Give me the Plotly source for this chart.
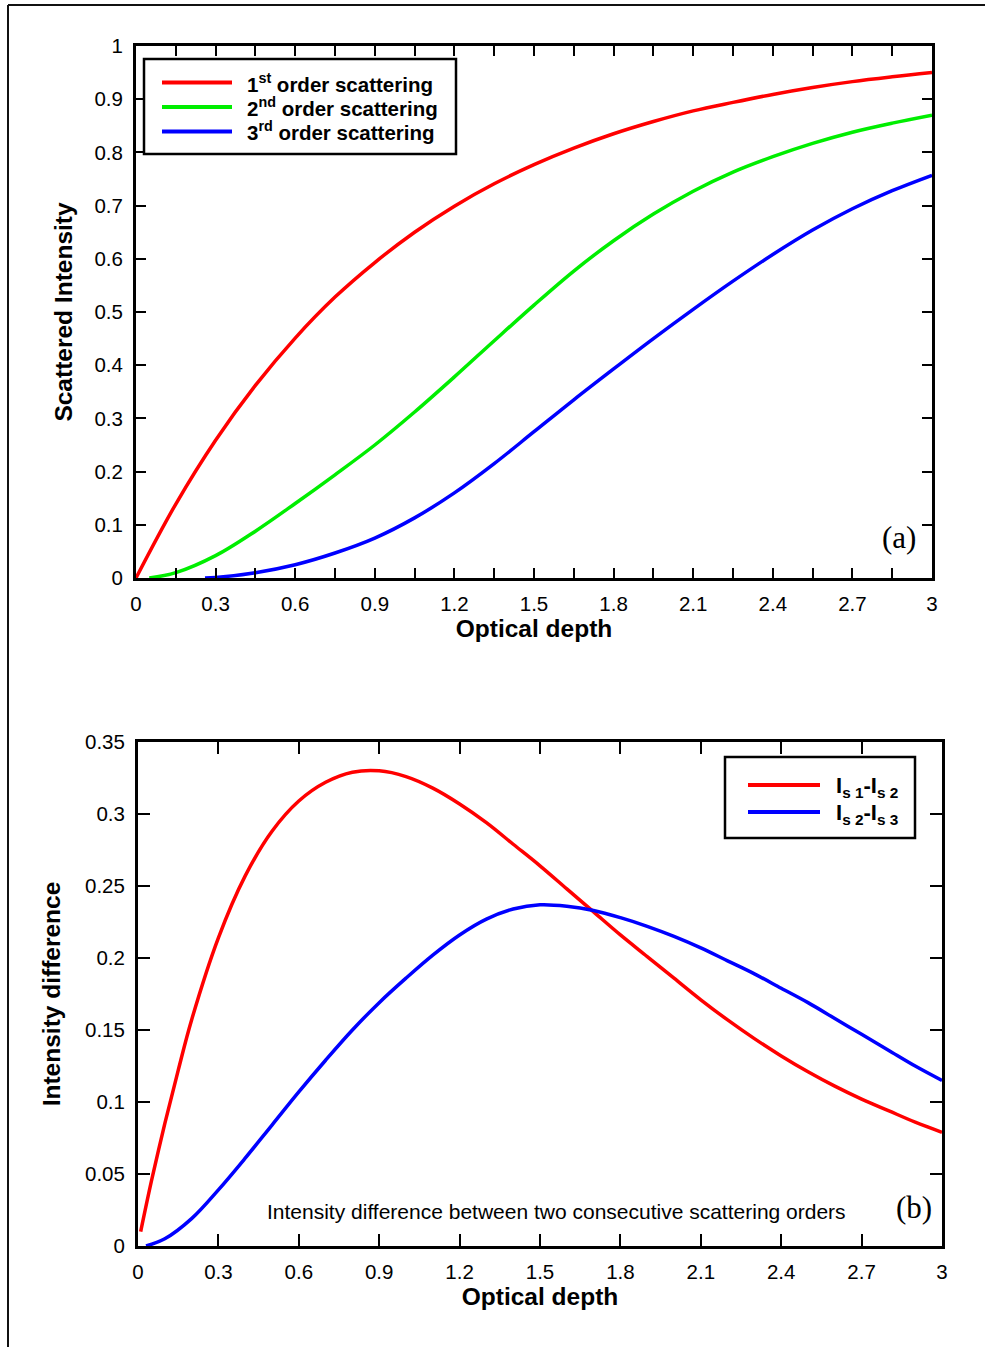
import plotly.graph_objects as go

# ---------------- data ----------------
tau_a = [0, 0.15, 0.3, 0.45, 0.6, 0.75, 0.9, 1.05, 1.2, 1.35, 1.5, 1.65, 1.8, 1.95,
         2.1, 2.25, 2.4, 2.55, 2.7, 2.85, 3.0]
first_order = [0, 0.139, 0.259, 0.362, 0.451, 0.528, 0.593, 0.650, 0.699, 0.741, 0.777,
               0.808, 0.835, 0.858, 0.878, 0.894, 0.909, 0.922, 0.933, 0.942, 0.950]
tau_green = [0.05, 0.15, 0.3, 0.45, 0.6, 0.75, 0.9, 1.05, 1.2, 1.35, 1.5, 1.65, 1.8, 1.95,
             2.1, 2.25, 2.4, 2.55, 2.7, 2.85, 3.0]
second_order = [0, 0.01, 0.042, 0.088, 0.14, 0.194, 0.25, 0.312, 0.378, 0.446, 0.513,
                0.577, 0.634, 0.684, 0.727, 0.763, 0.792, 0.817, 0.838, 0.855, 0.870]
tau_blue = [0.26, 0.3, 0.45, 0.6, 0.75, 0.9, 1.05, 1.2, 1.35, 1.5, 1.65, 1.8, 1.95,
            2.1, 2.25, 2.4, 2.55, 2.7, 2.85, 3.0]
third_order = [0, 0.001, 0.01, 0.025, 0.047, 0.075, 0.113, 0.16, 0.215, 0.275, 0.335,
               0.393, 0.45, 0.505, 0.558, 0.608, 0.654, 0.694, 0.728, 0.757]

tau_d1 = [0.01, 0.05, 0.1, 0.15, 0.2, 0.3, 0.4, 0.5, 0.6, 0.7, 0.8, 0.9, 1.0, 1.1, 1.2,
          1.3, 1.4, 1.5, 1.6, 1.7, 1.8, 1.9, 2.0, 2.1, 2.2, 2.3, 2.4, 2.5, 2.6, 2.7,
          2.8, 2.9, 3.0]
diff_12 = [0.01, 0.045, 0.085, 0.122, 0.157, 0.214, 0.257, 0.288, 0.309, 0.322, 0.329,
           0.33, 0.326, 0.318, 0.307, 0.294, 0.279, 0.264, 0.248, 0.232, 0.216, 0.201,
           0.186, 0.171, 0.157, 0.144, 0.132, 0.121, 0.111, 0.102, 0.094, 0.086, 0.079]
tau_d2 = [0.03, 0.1, 0.2, 0.3, 0.4, 0.5, 0.6, 0.7, 0.8, 0.9, 1.0, 1.1, 1.2, 1.3, 1.4,
          1.5, 1.6, 1.7, 1.8, 1.9, 2.0, 2.1, 2.2, 2.3, 2.4, 2.5, 2.6, 2.7, 2.8, 2.9, 3.0]
diff_23 = [0, 0.005, 0.019, 0.039, 0.061, 0.084, 0.107, 0.129, 0.15, 0.169, 0.186, 0.202,
           0.216, 0.227, 0.234, 0.237, 0.236, 0.233, 0.228, 0.222, 0.215, 0.207, 0.198,
           0.189, 0.179, 0.169, 0.158, 0.147, 0.136, 0.125, 0.115]

legend_a = ["1<sup>st</sup> order scattering", "2<sup>nd</sup> order scattering",
            "3<sup>rd</sup> order scattering"]
legend_b = ["I<sub>s 1</sub>-I<sub>s 2</sub>", "I<sub>s 2</sub>-I<sub>s 3</sub>"]

RED, GREEN, BLUE = "#ff0000", "#00ee00", "#0000ff"

W, H = 985, 1347


def px(x):
    return x / W


def py(y):
    return 1 - y / H


fig = go.Figure()
lw = 3.5
sp = dict(width=lw, shape="spline", smoothing=1.0)
fig.add_trace(go.Scatter(x=tau_a, y=first_order, mode="lines", line=dict(color=RED, **sp),
                         name="1st order scattering", xaxis="x", yaxis="y"))
fig.add_trace(go.Scatter(x=tau_green, y=second_order, mode="lines", line=dict(color=GREEN, **sp),
                         name="2nd order scattering", xaxis="x", yaxis="y"))
fig.add_trace(go.Scatter(x=tau_blue, y=third_order, mode="lines", line=dict(color=BLUE, **sp),
                         name="3rd order scattering", xaxis="x", yaxis="y"))
fig.add_trace(go.Scatter(x=tau_d1, y=diff_12, mode="lines", line=dict(color=RED, **sp),
                         name="Is1-Is2", xaxis="x2", yaxis="y2"))
fig.add_trace(go.Scatter(x=tau_d2, y=diff_23, mode="lines", line=dict(color=BLUE, **sp),
                         name="Is2-Is3", xaxis="x2", yaxis="y2"))

SANS = "Liberation Sans, Arial, sans-serif"
tickfont = dict(family=SANS, size=20.5, color="black")
titlefont = dict(family=SANS, size=24.5, color="black", weight="bold")

common = dict(showline=True, linewidth=3, linecolor="black", mirror="ticks", ticks="inside",
              tickwidth=1.5, tickcolor="black", showgrid=False, zeroline=False, tickfont=tickfont,
              automargin=False)

fig.update_layout(
    width=W, height=H, autosize=False,
    margin=dict(l=0, r=0, t=0, b=0, pad=0),
    paper_bgcolor="white", plot_bgcolor="white",
    showlegend=False,
    xaxis=dict(domain=[px(136), px(932)], range=[0, 3], dtick=0.3, ticklen=10,
               minor=dict(dtick=0.15, ticks="inside", ticklen=10, tickwidth=1.5, tickcolor="black"),
               anchor="y", title=dict(text="Optical depth", font=titlefont, standoff=6),
               ticklabelstandoff=5, **common),
    yaxis=dict(domain=[py(578), py(46)], range=[0, 1], dtick=0.1, ticklen=10,
               anchor="x", title=dict(text="Scattered Intensity", font=titlefont, standoff=15),
               ticklabelstandoff=6, **common),
    xaxis2=dict(domain=[px(138), px(942)], range=[0, 3], dtick=0.3, ticklen=12,
                anchor="y2", title=dict(text="Optical depth", font=titlefont, standoff=6),
                ticklabelstandoff=5, **common),
    yaxis2=dict(domain=[py(1246), py(742)], range=[0, 0.35], dtick=0.05, ticklen=12,
                anchor="x2", title=dict(text="Intensity difference", font=titlefont, standoff=18),
                ticklabelstandoff=6, **common),
)

shapes = []
# outer frame
shapes.append(dict(type="line", xref="paper", yref="paper", x0=px(8), x1=1, y0=py(5), y1=py(5),
                   line=dict(color="#111111", width=2)))
shapes.append(dict(type="line", xref="paper", yref="paper", x0=px(8), x1=px(8), y0=py(5), y1=0,
                   line=dict(color="#111111", width=2)))
# legend a box
shapes.append(dict(type="rect", xref="paper", yref="paper", x0=px(144), x1=px(456), y0=py(154), y1=py(59),
                   line=dict(color="black", width=2.5), fillcolor="white"))
# legend b box
shapes.append(dict(type="rect", xref="paper", yref="paper", x0=px(725), x1=px(915), y0=py(838), y1=py(757),
                   line=dict(color="black", width=2.5), fillcolor="white"))

annotations = []
legfont = dict(family=SANS, size=20.5, color="black", weight="bold")
legfont_b = dict(family=SANS, size=22, color="black", weight="bold")
for i, (txt, col) in enumerate(zip(legend_a, [RED, GREEN, BLUE])):
    yy = 82.5 + i * 24.5
    shapes.append(dict(type="line", xref="paper", yref="paper", x0=px(162), x1=px(232), y0=py(yy), y1=py(yy),
                       line=dict(color=col, width=4)))
    annotations.append(dict(text=txt, xref="paper", yref="paper", x=px(245), y=py(yy), xanchor="left",
                            yanchor="middle", showarrow=False, font=legfont))
for i, (txt, col) in enumerate(zip(legend_b, [RED, BLUE])):
    yy = 785 + i * 27
    shapes.append(dict(type="line", xref="paper", yref="paper", x0=px(748), x1=px(820), y0=py(yy), y1=py(yy),
                       line=dict(color=col, width=4)))
    annotations.append(dict(text=txt, xref="paper", yref="paper", x=px(834), y=py(yy + 2), xanchor="left",
                            yanchor="middle", showarrow=False, font=legfont_b))

serif = dict(family="Liberation Serif, Times New Roman, serif", size=31, color="black")
annotations.append(dict(text="(a)", xref="paper", yref="paper", x=px(918), y=py(537), xanchor="right",
                        yanchor="middle", showarrow=False, font=serif))
annotations.append(dict(text="(b)", xref="paper", yref="paper", x=px(934), y=py(1207), xanchor="right",
                        yanchor="middle", showarrow=False, font=serif))
annotations.append(dict(text="Intensity difference between two consecutive scattering orders",
                        xref="paper", yref="paper", x=px(556), y=py(1211), xanchor="center",
                        yanchor="middle", showarrow=False,
                        font=dict(family=SANS, size=21, color="black")))

fig.update_layout(shapes=shapes, annotations=annotations)
fig.write_html("out.html")
